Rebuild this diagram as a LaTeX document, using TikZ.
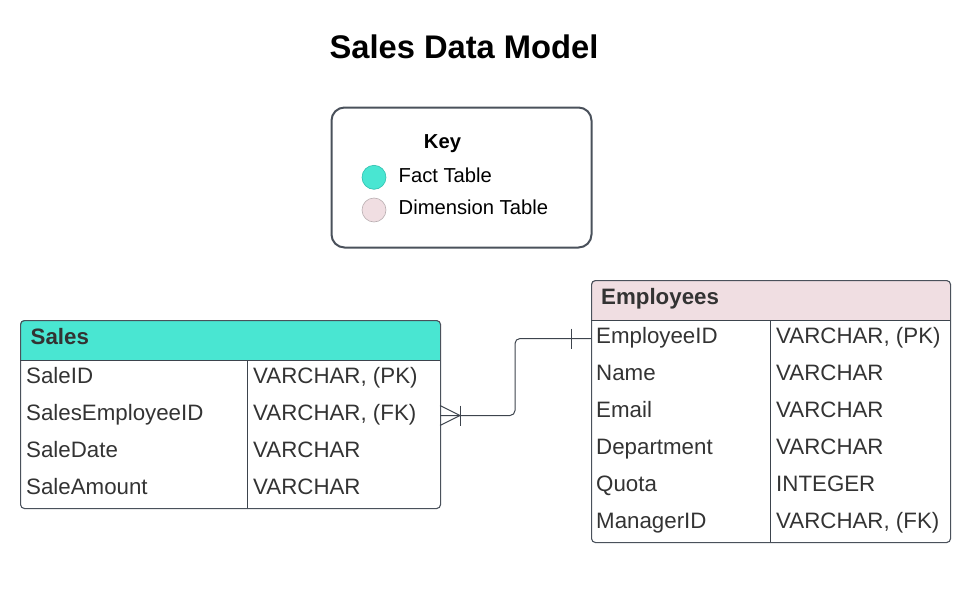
\documentclass[tikz,border=0pt]{standalone}
\usepackage{fontspec}
\setmainfont{Liberation Sans}
\definecolor{lineC}{HTML}{3D444D}
\definecolor{boxC}{HTML}{4A515B}
\definecolor{factC}{HTML}{49E6D2}
\definecolor{factB}{HTML}{2FBFAE}
\definecolor{dimC}{HTML}{F0DEE2}
\definecolor{dimB}{HTML}{B9AEB1}
\definecolor{txtC}{HTML}{333333}
\begin{document}
\begin{tikzpicture}[x=1pt,y=-1pt,
  tbl/.style={draw=boxC, line width=1.1pt, rounded corners=4pt, inner sep=0pt, anchor=north west},
  sep/.style={draw=lineC, line width=1pt},
  cell/.style={anchor=base west, text=txtC, inner sep=0pt, font=\fontsize{22.3}{26}\selectfont},
  hdr/.style={anchor=base west, text=txtC, inner sep=0pt, font=\bfseries\fontsize{22.3}{26}\selectfont},
  keytxt/.style={anchor=base west, text=black, inner sep=0pt, font=\fontsize{20.2}{24}\selectfont},
  dot/.style={circle, inner sep=0pt, minimum size=24pt, line width=0.6pt},
  conn/.style={draw=lineC, line width=1pt}
]
\useasboundingbox (0,0) rectangle (970,608);

% Title
\node[anchor=base, inner sep=0pt, font=\bfseries\fontsize{32.7}{38}\selectfont] (title) at (464,58.5) {Sales Data Model};

% Key
\node[draw=boxC, line width=2pt, rounded corners=13pt, minimum width=260pt, minimum height=140pt, anchor=north west, inner sep=0pt] (key) at (330.5,106.5) {};
\node[anchor=base, inner sep=0pt, font=\bfseries\fontsize{20.2}{24}\selectfont] (keytitle) at (442.5,148.5) {Key};
\node[dot, fill=factC, draw=factB] (factdot) at (374,177.3) {};
\node[dot, fill=dimC, draw=dimB] (dimdot) at (374,210) {};
\node[keytxt] (facttxt) at (398.5,182) {Fact Table};
\node[keytxt] (dimtxt) at (398.5,214.5) {Dimension Table};

% Sales table
\begin{scope}
  \clip[rounded corners=4pt] (20,320) rectangle (440,508);
  \fill[factC] (20,320) rectangle (440,360);
\end{scope}
\node[tbl, minimum width=420pt, minimum height=188pt] (sales) at (20,320) {};
\draw[sep] (20,360) -- (440,360);
\draw[sep] (247,360) -- (247,508);
\node[hdr] (salesh) at (30.5,344.2) {Sales};
\node[cell] (s1a) at (26,383.5) {SaleID};
\node[cell] (s1b) at (253,383.5) {VARCHAR, (PK)};
\node[cell] (s2a) at (26,420.5) {SalesEmployeeID};
\node[cell] (s2b) at (253,420.5) {VARCHAR, (FK)};
\node[cell] (s3a) at (26,457.5) {SaleDate};
\node[cell] (s3b) at (253,457.5) {VARCHAR};
\node[cell] (s4a) at (26,494.5) {SaleAmount};
\node[cell] (s4b) at (253,494.5) {VARCHAR};

% Employees table
\begin{scope}
  \clip[rounded corners=4pt] (591,280) rectangle (950,542);
  \fill[dimC] (591,280) rectangle (950,320);
\end{scope}
\node[tbl, minimum width=359pt, minimum height=262pt] (emp) at (591,280) {};
\draw[sep] (591,320) -- (950,320);
\draw[sep] (770.5,320) -- (770.5,542);
\node[hdr] (emph) at (601,304.2) {Employees};
\node[cell] (e1a) at (596,343.5) {EmployeeID};
\node[cell] (e1b) at (776,343.5) {VARCHAR, (PK)};
\node[cell] (e2a) at (596,380.5) {Name};
\node[cell] (e2b) at (776,380.5) {VARCHAR};
\node[cell] (e3a) at (596,417.5) {Email};
\node[cell] (e3b) at (776,417.5) {VARCHAR};
\node[cell] (e4a) at (596,454.5) {Department};
\node[cell] (e4b) at (776,454.5) {VARCHAR};
\node[cell] (e5a) at (596,491.5) {Quota};
\node[cell] (e5b) at (776,491.5) {INTEGER};
\node[cell] (e6a) at (596,528.5) {ManagerID};
\node[cell] (e6b) at (776,528.5) {VARCHAR, (FK)};

% Connector
\coordinate (ePK) at (591,338.5);
\coordinate (sFK) at (440,415.5);
\draw[conn, rounded corners=5pt] (ePK) -- ++(-76,0) |- (sFK);
\draw[conn] (ePK) ++(-20,-10) -- ++(0,20);
\draw[conn] (sFK) ++(20,-10) -- ++(0,20);
\draw[conn] (sFK) ++(0,-10) -- ++(20,10) -- ++(-20,10);
\end{tikzpicture}
\end{document}
